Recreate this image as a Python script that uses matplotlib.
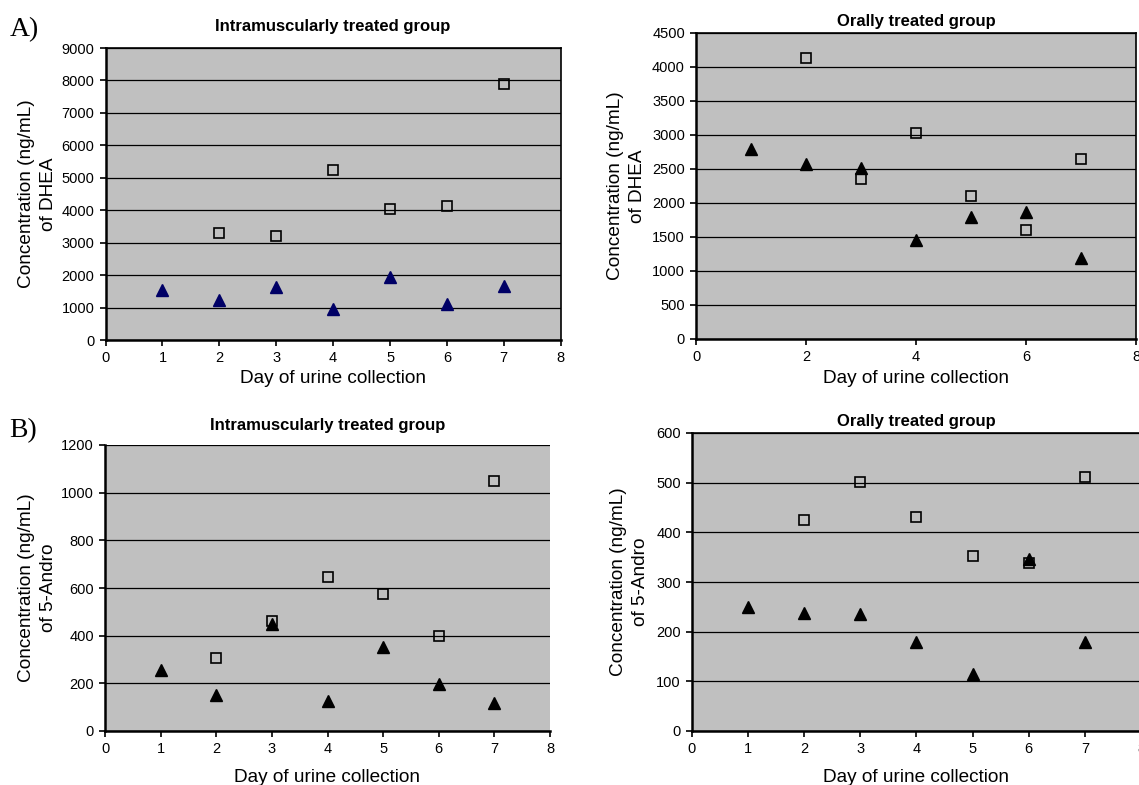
import numpy as np
import matplotlib
matplotlib.use("Agg")
import matplotlib.pyplot as plt

plt.rcParams["font.family"] = ["Liberation Sans", "DejaVu Sans"]

W, H = 1139, 785

# dias de coleta
days_tri = [1, 2, 3, 4, 5, 6, 7]
days_sq = [2, 3, 4, 5, 6, 7]

# A) DHEA
dhea_im_sq = [3300, 3200, 5230, 4050, 4130, 7900]
dhea_im_tri = [1550, 1230, 1630, 950, 1950, 1100, 1670]
dhea_or_sq = [4130, 2360, 3030, 2100, 1610, 2640]
dhea_or_tri = [2800, 2570, 2510, 1450, 1790, 1870, 1190]

# B) 5-Andro
andro_im_sq = [305, 462, 645, 575, 398, 1047]
andro_im_tri = [255, 153, 450, 127, 352, 197, 117]
andro_or_sq = [425, 502, 430, 352, 338, 512]
andro_or_tri = [250, 238, 235, 180, 115, 347, 180]

TITLE_IM = "Intramuscularly treated group"
TITLE_OR = "Orally treated group"
XLABEL = "Day of urine collection"
YLABEL_DHEA = "Concentration (ng/mL)\nof DHEA"
YLABEL_ANDRO = "Concentration (ng/mL)\nof 5-Andro"


def make_ax(fig, left, right, top, bottom):
    return fig.add_axes([left / W, 1 - bottom / H, (right - left) / W, (bottom - top) / H])


def panel(ax, sq, tri, title, ylabel, ymax, ystep, xticks, tri_color,
          title_pad, ylab_x, xlab_y, frame=True):
    ax.set_facecolor("#c0c0c0")
    ax.set_xlim(0, 8)
    ax.set_ylim(0, ymax)
    ax.set_yticks(np.arange(0, ymax + 1, ystep))
    ax.set_xticks(xticks)
    ax.yaxis.grid(True, color="black", lw=0.9)
    ax.set_axisbelow(True)
    ax.plot(days_sq, sq, ls="none", marker="s", ms=6.5, mfc="none",
            mec="black", mew=1.2)
    ax.plot(days_tri, tri, ls="none", marker="^", ms=8, mfc=tri_color,
            mec=tri_color)
    for s in ("left", "bottom"):
        ax.spines[s].set_linewidth(1.8)
    for s in ("top", "right"):
        ax.spines[s].set_visible(frame)
        ax.spines[s].set_linewidth(1.2)
    ax.tick_params(direction="out", length=4, width=1.2, labelsize=10.5, pad=4,
                   colors="black")
    ax.set_title(title, fontsize=12, fontweight="bold", pad=title_pad)
    ax.set_xlabel(XLABEL, fontsize=13.7)
    ax.set_ylabel(ylabel, fontsize=13.7, linespacing=1.35)
    # posições dos rótulos em pixels da figura
    bb = ax.get_position()
    x0, w = bb.x0 * W, bb.width * W
    y1, h = (1 - bb.y1) * H, bb.height * H
    ax.yaxis.set_label_coords((ylab_x - x0) / w, 0.5)
    ax.xaxis.set_label_coords(0.5, 1 - (xlab_y - y1) / h)


fig = plt.figure(figsize=(W / 100, H / 100), dpi=100)

ax1 = make_ax(fig, 105.6, 560.7, 48, 340)
panel(ax1, dhea_im_sq, dhea_im_tri, TITLE_IM, YLABEL_DHEA, 9000, 1000,
      range(9), "#000066", 12, 57, 370)

ax2 = make_ax(fig, 696, 1136, 33, 339)
panel(ax2, dhea_or_sq, dhea_or_tri, TITLE_OR, YLABEL_DHEA, 4500, 500,
      [0, 2, 4, 6, 8], "black", 5, 646, 370)

ax3 = make_ax(fig, 105, 550, 445, 731)
panel(ax3, andro_im_sq, andro_im_tri, TITLE_IM, YLABEL_ANDRO, 1200, 200,
      range(9), "black", 11, 57, 769, frame=False)

ax4 = make_ax(fig, 692, 1141, 433, 731)
panel(ax4, andro_or_sq, andro_or_tri, TITLE_OR, YLABEL_ANDRO, 600, 100,
      range(9), "black", 5, 649, 769)

# rótulos dos painéis
fig.text(10 / W, 1 - 30 / H, "A)", family=["Liberation Serif", "DejaVu Serif"],
         fontsize=20, va="center", ha="left")
fig.text(9 / W, 1 - 431 / H, "B)", family=["Liberation Serif", "DejaVu Serif"],
         fontsize=20, va="center", ha="left")

fig.savefig("out.png", dpi=100)
